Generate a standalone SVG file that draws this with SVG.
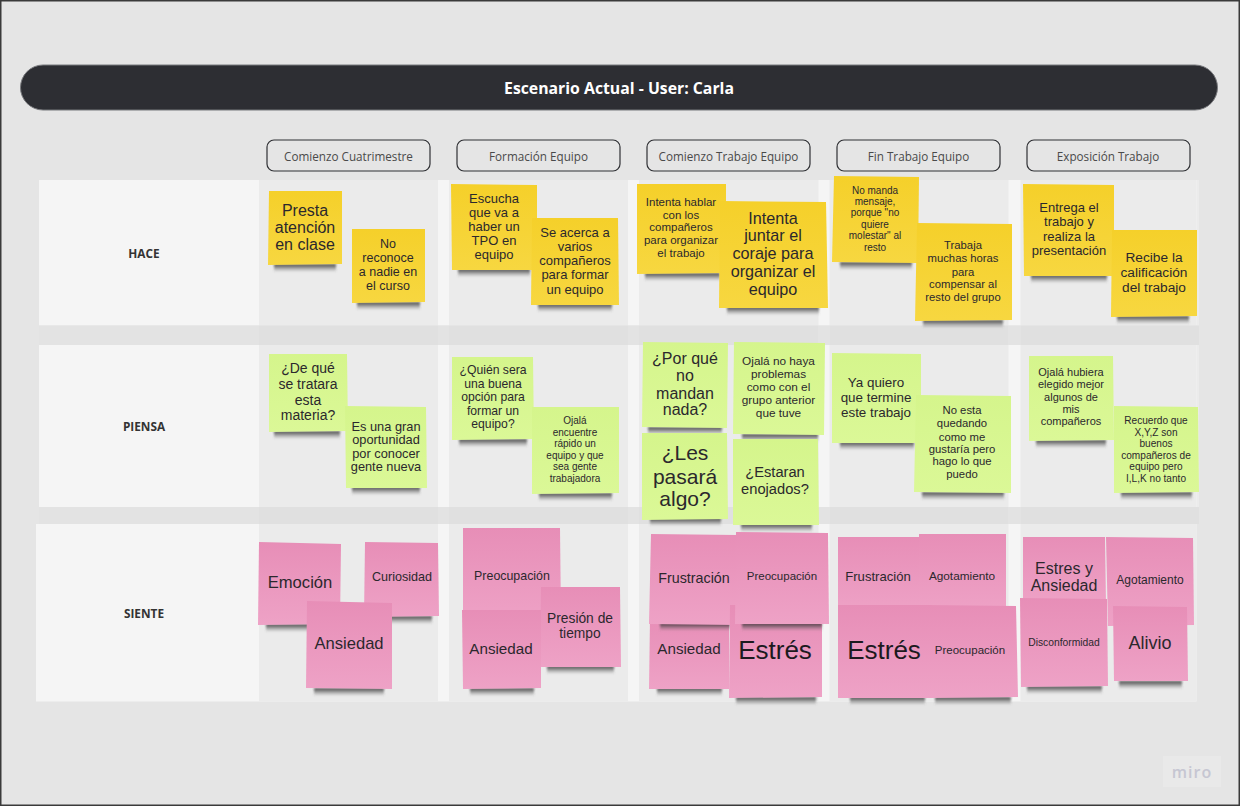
<svg xmlns="http://www.w3.org/2000/svg" width="1240" height="806" viewBox="0 0 1240 806">
<style>
text{font-family:"Liberation Sans",Arial,sans-serif;text-anchor:middle;dominant-baseline:central;fill:#2b282d}
.y{fill:url(#gy)}.g{fill:url(#gg)}.p{fill:url(#gp)}
.sh{fill:url(#gs);height:8px;filter:url(#bl)}
.hd{fill:none;stroke:#2f3034;stroke-width:1.2}
.hdt{font-family:"Open Sans",sans-serif;font-size:11.700px;fill:#4a4a4a}
.lab{font-family:"Open Sans",sans-serif;font-size:11.800px;font-weight:700;fill:#333}
.c{fill:#ebebeb}.d{fill:#e0e0e0}
</style>
<defs>
<linearGradient id="gy" x1="0" y1="0" x2="0" y2="1"><stop offset="0" stop-color="#f5d02a"/><stop offset="1" stop-color="#f7d740"/></linearGradient>
<linearGradient id="gg" x1="0" y1="0" x2="0" y2="1"><stop offset="0" stop-color="#d5f58c"/><stop offset="1" stop-color="#dbf897"/></linearGradient>
<linearGradient id="gp" x1="0" y1="0" x2="0" y2="1"><stop offset="0" stop-color="#e78eb7"/><stop offset="1" stop-color="#eea2c6"/></linearGradient>
<linearGradient id="gs" x1="0" y1="0" x2="0" y2="1"><stop offset="0" stop-color="#222" stop-opacity=".85"/><stop offset=".4" stop-color="#444" stop-opacity=".55"/><stop offset="1" stop-color="#666" stop-opacity="0"/></linearGradient>
<filter id="bl" x="-20%" y="-100%" width="140%" height="300%"><feGaussianBlur stdDeviation="1.200"/></filter>
</defs>
<rect id="background" x="0.75" y="0.75" width="1238.5" height="804.5" fill="#e5e5e5" stroke="#3a3a3a" stroke-width="1.5"/>
<g id="grid">
<rect x="39" y="180" width="1160" height="145.500" fill="#f5f5f5"/>
<rect x="39" y="325.500" width="1160" height="19.500" fill="#e3e3e3"/>
<rect x="39" y="345" width="1160" height="162" fill="#f5f5f5"/>
<rect x="39" y="507" width="1160" height="17" fill="#e3e3e3"/>
<rect x="36" y="524" width="1160.500" height="177.500" fill="#f5f5f5"/>
<rect class="c" x="259" y="180" width="179" height="521.500"/>
<rect class="c" x="449" y="180" width="179" height="521.500"/>
<rect class="c" x="639" y="180" width="179.500" height="521.500"/>
<rect class="c" x="829.500" y="180" width="179" height="521.500"/>
<rect class="c" x="1020.500" y="180" width="176" height="521.500"/>
<rect class="c" x="1196.500" y="180" width="2.500" height="327"/>
<rect class="d" x="259" y="325.500" width="179" height="19.500"/><rect class="d" x="449" y="325.500" width="179" height="19.500"/><rect class="d" x="639" y="325.500" width="179.500" height="19.500"/><rect class="d" x="829.500" y="325.500" width="179" height="19.500"/><rect class="d" x="1020.500" y="325.500" width="178.500" height="19.500"/>
<rect class="d" x="259" y="507" width="179" height="17"/><rect class="d" x="449" y="507" width="179" height="17"/><rect class="d" x="639" y="507" width="179.500" height="17"/><rect class="d" x="829.500" y="507" width="179" height="17"/><rect class="d" x="1020.500" y="507" width="178.500" height="17"/>
</g>
<g id="title"><rect x="20.500" y="65" width="1197" height="45" rx="22.500" fill="#2d2e33" stroke="#77787c" stroke-width="1"/>
<text x="619" y="87.500" style="font-family:'Open Sans',sans-serif;font-size:15.800px;font-weight:700;fill:#fff">Escenario Actual - User: Carla</text></g>
<g id="col1"><rect class="hd" x="267" y="140" width="163" height="31" rx="7"/><text class="hdt" x="348.500" y="155.500">Comienzo Cuatrimestre</text></g>
<g id="col2"><rect class="hd" x="457" y="140" width="163" height="31" rx="7"/><text class="hdt" x="538.500" y="155.500">Formación Equipo</text></g>
<g id="col3"><rect class="hd" x="647" y="140" width="163" height="31" rx="7"/><text class="hdt" x="728.500" y="155.500">Comienzo Trabajo Equipo</text></g>
<g id="col4"><rect class="hd" x="837" y="140" width="163" height="31" rx="7"/><text class="hdt" x="918.500" y="155.500">Fin Trabajo Equipo</text></g>
<g id="col5"><rect class="hd" x="1027" y="140" width="163" height="31" rx="7"/><text class="hdt" x="1108" y="155.500">Exposición Trabajo</text></g>
<g id="row1"><text class="lab" x="144" y="252.500">HACE</text></g>
<g id="row2"><text class="lab" x="144" y="426">PIENSA</text></g>
<g id="row3"><text class="lab" x="144" y="612.500">SIENTE</text></g>

<g id="n1"><rect class="sh" x="274" y="264" width="62"/><polygon class="y" points="269,191 342,191 342,264 268,265"/><text font-size="16"><tspan x="305" y="209.500">Presta</tspan><tspan x="305" y="226.500">atención</tspan><tspan x="305" y="243.500">en clase</tspan></text></g>
<g id="n2"><rect class="sh" x="357" y="302" width="63"/><polygon class="y" points="352,229 425,229 425,302 352,303"/><text font-size="12.500"><tspan x="388" y="243.500">No</tspan><tspan x="388" y="258">reconoce</tspan><tspan x="388" y="272">a nadie en</tspan><tspan x="388" y="286">el curso</tspan></text></g>
<g id="n3"><rect class="sh" x="458" y="269" width="72"/><polygon class="y" points="451,184 537,185 537,270 452,270"/><text font-size="13"><tspan x="494" y="197.500">Escucha</tspan><tspan x="494" y="211.500">que va a</tspan><tspan x="494" y="225.500">haber un</tspan><tspan x="494" y="239.500">TPO en</tspan><tspan x="494" y="254">equipo</tspan></text></g>
<g id="n4"><rect class="sh" x="538" y="304" width="74"/><polygon class="y" points="532,218 618,218 619,305 531,305"/><text font-size="13"><tspan x="575" y="231.700">Se acerca a</tspan><tspan x="575" y="245.700">varios</tspan><tspan x="575" y="260">compañeros</tspan><tspan x="575" y="274.300">para formar</tspan><tspan x="575" y="289">un equipo</tspan></text></g>
<g id="n5"><rect class="sh" x="645" y="273" width="75"/><polygon class="y" points="637,184 726,184 726,273 637,274"/><text font-size="11.500"><tspan x="681" y="202">Intenta hablar</tspan><tspan x="681" y="215">con los</tspan><tspan x="681" y="227">compañeros</tspan><tspan x="681" y="240">para organizar</tspan><tspan x="681" y="253">el trabajo</tspan></text></g>
<g id="n6"><rect class="sh" x="727" y="307" width="92"/><polygon class="y" points="720,201 826,202 828,308 719,308"/><text font-size="16.200"><tspan x="773" y="217.700">Intenta</tspan><tspan x="773" y="235.300">juntar el</tspan><tspan x="773" y="252.700">coraje para</tspan><tspan x="773" y="270.700">organizar el</tspan><tspan x="773" y="288.700">equipo</tspan></text></g>
<g id="n7"><rect class="sh" x="840" y="262" width="72"/><polygon class="y" points="834,176 919,177 918,263 832,262"/><text font-size="10"><tspan x="875" y="189.700">No manda</tspan><tspan x="875" y="201">mensaje,</tspan><tspan x="875" y="212">porque "no</tspan><tspan x="875" y="223.700">quiere</tspan><tspan x="875" y="234.700">molestar" al</tspan><tspan x="875" y="246.700">resto</tspan></text></g>
<g id="n8"><rect class="sh" x="923" y="320" width="80"/><polygon class="y" points="917,223 1012,224 1012,320 915,321"/><text font-size="11.300"><tspan x="963" y="245">Trabaja</tspan><tspan x="963" y="258.300">muchas horas</tspan><tspan x="963" y="271.700">para</tspan><tspan x="963" y="284.300">compensar al</tspan><tspan x="963" y="297.300">resto del grupo</tspan></text></g>
<g id="n9"><rect class="sh" x="1031" y="275" width="76"/><polygon class="y" points="1023,184 1114,185 1114,276 1024,276"/><text font-size="13"><tspan x="1069" y="207.300">Entrega el</tspan><tspan x="1069" y="221.300">trabajo y</tspan><tspan x="1069" y="235.700">realiza la</tspan><tspan x="1069" y="249.700">presentación</tspan></text></g>
<g id="n10"><rect class="sh" x="1117" y="316" width="72"/><polygon class="y" points="1112,230 1197,230 1197,316 1111,317"/><text font-size="13.700"><tspan x="1154" y="257.300">Recibe la</tspan><tspan x="1154" y="272.300">calificación</tspan><tspan x="1154" y="287">del trabajo</tspan></text></g>

<g id="n11"><rect class="sh" x="274" y="431" width="66"/><polygon class="g" points="269,354 347,354 348,431 269,432"/><text font-size="14"><tspan x="308" y="368.300">¿De qué</tspan><tspan x="308" y="384.300">se tratara</tspan><tspan x="308" y="400.300">esta</tspan><tspan x="308" y="415.300">materia?</tspan></text></g>
<g id="n12"><rect class="sh" x="352" y="487" width="68"/><polygon class="g" points="345,406 426,407 427,488 346,488"/><text font-size="12.800"><tspan x="386" y="426">Es una gran</tspan><tspan x="386" y="439">oportunidad</tspan><tspan x="386" y="452.700">por conocer</tspan><tspan x="386" y="466">gente nueva</tspan></text></g>
<g id="n13"><rect class="sh" x="459" y="439" width="68"/><polygon class="g" points="452,357 533,357 534,439 452,440"/><text font-size="12.200"><tspan x="493" y="370">¿Quién sera</tspan><tspan x="493" y="384">una buena</tspan><tspan x="493" y="397">opción para</tspan><tspan x="493" y="411">formar un</tspan><tspan x="493" y="424">equipo?</tspan></text></g>
<g id="n14"><rect class="sh" x="539" y="493" width="73"/><polygon class="g" points="532,407 619,407 619,493 532,494"/><text font-size="10"><tspan x="575" y="420">Ojalá</tspan><tspan x="575" y="432">encuentre</tspan><tspan x="575" y="443">rápido un</tspan><tspan x="575" y="455">equipo y que</tspan><tspan x="575" y="466">sea gente</tspan><tspan x="575" y="478">trabajadora</tspan></text></g>
<g id="n15"><rect class="sh" x="648" y="427" width="74"/><polygon class="g" points="643,342 728,343 727,428 642,427"/><text font-size="16"><tspan x="685" y="357.700">¿Por qué</tspan><tspan x="685" y="375">no</tspan><tspan x="685" y="393">mandan</tspan><tspan x="685" y="409.300">nada?</tspan></text></g>
<g id="n16"><rect class="sh" x="742" y="434" width="76"/><polygon class="g" points="734,342 825,343 824,435 733,434"/><text font-size="11.800"><tspan x="778.500" y="360.700">Ojalá no haya</tspan><tspan x="778.500" y="373.700">problemas</tspan><tspan x="778.500" y="386.700">como con el</tspan><tspan x="778.500" y="399.700">grupo anterior</tspan><tspan x="778.500" y="412.700">que tuve</tspan></text></g>
<g id="n17"><rect class="sh" x="650" y="518" width="71"/><polygon class="g" points="642,433 727,433 728,519 642,520"/><text font-size="21"><tspan x="685" y="452">¿Les</tspan><tspan x="685" y="475.700">pasará</tspan><tspan x="685" y="498.300">algo?</tspan></text></g>
<g id="n18"><rect class="sh" x="741" y="524" width="71"/><polygon class="g" points="733,439 818,439 819,525 733,525"/><text font-size="14.700"><tspan x="775" y="472">¿Estaran</tspan><tspan x="775" y="489">enojados?</tspan></text></g>
<g id="n19"><rect class="sh" x="840" y="442" width="74"/><polygon class="g" points="832,353 921,354 921,443 832,443"/><text font-size="13.400"><tspan x="876" y="381.700">Ya quiero</tspan><tspan x="876" y="396.700">que termine</tspan><tspan x="876" y="411.700">este trabajo</tspan></text></g>
<g id="n20"><rect class="sh" x="922" y="492" width="82"/><polygon class="g" points="916,395 1011,396 1011,493 914,492"/><text font-size="11.300"><tspan x="962" y="410">No esta</tspan><tspan x="962" y="423">quedando</tspan><tspan x="962" y="436.700">como me</tspan><tspan x="962" y="448.700">gustaría pero</tspan><tspan x="962" y="461.300">hago lo que</tspan><tspan x="962" y="474.300">puedo</tspan></text></g>
<g id="n21"><rect class="sh" x="1036" y="440" width="70"/><polygon class="g" points="1029,356 1113,356 1114,440 1029,441"/><text font-size="11"><tspan x="1071" y="372">Ojalá hubiera</tspan><tspan x="1071" y="384.300">elegido mejor</tspan><tspan x="1071" y="397.300">algunos de</tspan><tspan x="1071" y="409.300">mis</tspan><tspan x="1071" y="421.300">compañeros</tspan></text></g>
<g id="n22"><rect class="sh" x="1121" y="492" width="71"/><polygon class="g" points="1114,406 1198,407 1199,492 1114,493"/><text font-size="10.100"><tspan x="1156" y="420">Recuerdo que</tspan><tspan x="1156" y="432">X,Y,Z son</tspan><tspan x="1156" y="443">buenos</tspan><tspan x="1156" y="455">compañeros de</tspan><tspan x="1156" y="466">equipo pero</tspan><tspan x="1156" y="478">I,L,K no tanto</tspan></text></g>

<g id="n23"><rect class="sh" x="266" y="624" width="68"/><polygon class="p" points="259,542 341,544 340,624 258,625"/><text font-size="16.600" x="300" y="582">Emoción</text></g>
<g id="n24"><rect class="sh" x="372" y="616" width="60"/><polygon class="p" points="365,542 438,543 439,616 364,617"/><text font-size="12.600" x="402" y="577">Curiosidad</text></g>
<g id="n25"><rect class="sh" x="314" y="688" width="70"/><polygon class="p" points="307,601 392,603 392,689 306,688"/><text font-size="16.600" x="349" y="643">Ansiedad</text></g>
<g id="n26"><polygon class="p" points="463,528 560,528 561,620 463,622"/><text font-size="12.400" x="512" y="576">Preocupación</text></g>
<g id="n27"><rect class="sh" x="547" y="666" width="67"/><polygon class="p" points="541,587 620,587 621,667 540,667"/><text font-size="13.800"><tspan x="580" y="618">Presión de</tspan><tspan x="580" y="633">tiempo</tspan></text></g>
<g id="n28"><rect class="sh" x="470" y="688" width="64"/><polygon class="p" points="462,610 541,610 541,688 463,689"/><text font-size="15.200" x="501" y="648">Ansiedad</text></g>

<g id="n31"><rect class="sh" x="657" y="688" width="65"/><polygon class="p" points="650,618 729,618 729,689 649,689"/><text font-size="15.200" x="689" y="648">Ansiedad</text></g>
<g id="n29"><rect class="sh" x="660" y="623" width="70"/><polygon class="p" points="651,534 737,535 737,625 649,624"/><text font-size="14.300" x="694" y="578">Frustración</text></g>
<g id="n32"><rect class="sh" x="736" y="697" width="80"/><polygon class="p" points="730,605 822,605 822,697 729,698"/><text font-size="26" style="fill:#1c1a1e" x="775" y="650">Estrés</text></g>
<g id="n30"><rect class="sh" x="742" y="623" width="80"/><polygon class="p" points="736,532 828,533 829,624 735,624"/><text font-size="11.500" x="782" y="576">Preocupación</text></g>

<g id="n33"><polygon class="p" points="838,537 920,537 920,612 838,612"/><text font-size="13.100" x="878" y="576">Frustración</text></g>
<g id="n34"><polygon class="p" points="919,534 1006,534 1006,612 919,612"/><text font-size="11.800" x="962" y="576">Agotamiento</text></g>
<g id="n35"><rect class="sh" x="850" y="697" width="75"/><polygon class="p" points="838,605 932,605 931,698 838,698"/><text font-size="26" style="fill:#1c1a1e" x="884" y="650">Estrés</text></g>
<g id="n36"><rect class="sh" x="935" y="697" width="76"/><polygon class="p" points="925,605 1016,606 1018,697 931,698"/><text font-size="11.500" x="970" y="650">Preocupación</text></g>

<g id="n37"><polygon class="p" points="1023,537 1105,537 1106,605 1023,605"/><text font-size="16"><tspan x="1064" y="568">Estres y</tspan><tspan x="1064" y="585">Ansiedad</tspan></text></g>
<g id="n38"><polygon class="p" points="1106,537 1193,538 1194,625 1108,626"/><text font-size="12" x="1150" y="580">Agotamiento</text></g>
<g id="n39"><rect class="sh" x="1027" y="686" width="75"/><polygon class="p" points="1020,598 1107,599 1108,686 1021,687"/><text font-size="10.300" x="1064" y="642">Disconformidad</text></g>
<g id="n40"><rect class="sh" x="1119" y="681" width="63"/><polygon class="p" points="1113,606 1187,607 1188,681 1114,681"/><text font-size="18" x="1150" y="643">Alivio</text></g>

<g id="watermark"><rect x="1163" y="756" width="58" height="31" fill="#e9e9e9"/><text x="1192" y="771.500" style="font-family:'Open Sans',sans-serif;font-size:16px;font-weight:600;letter-spacing:1px;fill:#c6c6d2">miro</text></g>
</svg>
